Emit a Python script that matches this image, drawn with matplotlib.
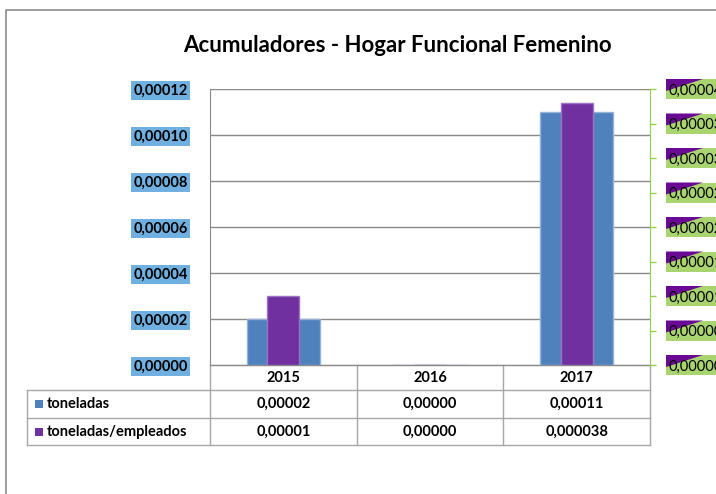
import matplotlib.pyplot as plt
from matplotlib.patches import Rectangle, Polygon
import numpy as np

plt.rcParams['font.family'] = ['Lato', 'DejaVu Sans']

# data
years = ['2015', '2016', '2017']
toneladas = [0.00002, 0.0, 0.00011]
toneladas_empleados = [0.00001, 0.0, 0.000038]
series_names = ['toneladas', 'toneladas/empleados']
left_ticks = [0.0, 0.00002, 0.00004, 0.00006, 0.00008, 0.00010, 0.00012]
right_ticks = [0.0, 0.000005, 0.00001, 0.000015, 0.00002, 0.000025, 0.00003, 0.000035, 0.00004]

BLUE = '#4f81bd'
PURPLE = '#7030a0'
GRID = '#898989'
W, H = 716, 494


def fmt(v, decimals=5):
    s = f"{v:.{decimals}f}".replace('.', ',')
    return s


def fmt_table(v):
    s = f"{v:.6f}".rstrip('0')
    if len(s.split('.')[1]) < 5:
        s = f"{v:.5f}"
    return s.replace('.', ',')


fig = plt.figure(figsize=(W / 100, H / 100), dpi=100)

# overlay in pixel coordinates (y down), behind the chart
bg = fig.add_axes([0, 0, 1, 1], zorder=-1)
bg.set_xlim(0, W)
bg.set_ylim(H, 0)
bg.axis('off')

left, right, top, bottom = 210, 650, 89, 365
ax = fig.add_axes([left / W, 1 - bottom / H, (right - left) / W, (bottom - top) / H])
ax2 = ax.twinx()

x = np.arange(len(years))
ax.bar(x, toneladas, width=0.5, color=BLUE, edgecolor='#95b3d7', linewidth=1, zorder=3)
ax2.bar(x, toneladas_empleados, width=0.22, color=PURPLE, edgecolor='#9d73c4', linewidth=1, zorder=3)

ax.set_xlim(-0.5, len(years) - 0.5)
ax.set_ylim(left_ticks[0], left_ticks[-1])
ax2.set_ylim(right_ticks[0], right_ticks[-1])

ax.set_yticks(left_ticks)
ax.set_yticklabels([fmt(v) for v in left_ticks], fontsize=10.5, fontweight='bold')
for lbl in ax.get_yticklabels():
    lbl.set_bbox(dict(boxstyle='square,pad=0.15', fc='#6fb0e0', ec='none'))
ax.tick_params(axis='y', length=0, pad=16)
ax.set_xticks([])
ax.grid(axis='y', color=GRID, linewidth=1, zorder=0)

ax2.set_yticks(right_ticks)
ax2.set_yticklabels([fmt(v, 6) for v in right_ticks], fontsize=10.5)
ax2.tick_params(axis='y', length=4, width=1, color='#92d050', pad=9, direction='out')
ax2.set_xticks([])

for a in (ax, ax2):
    for side in ('top', 'bottom', 'left', 'right'):
        a.spines[side].set_visible(False)
ax.spines['left'].set_visible(True)
ax.spines['left'].set_color(GRID)
ax.spines['bottom'].set_visible(True)
ax.spines['bottom'].set_color(GRID)
ax2.spines['right'].set_visible(True)
ax2.spines['right'].set_color('#92d050')


def to_px(axis, xv, yv):
    dx, dy = axis.transData.transform((xv, yv))
    return dx, H - dy


# right label boxes with purple corner
for v in right_ticks:
    _, py = to_px(ax2, 0, v)
    bg.add_patch(Rectangle((666, py - 10), 60, 20, fc='#a9d46f', ec='none'))
    bg.add_patch(Polygon([(666, py - 10), (703, py - 10), (666, py + 2)], closed=True,
                         fc='#6a0a94', ec='none'))

# outer chart border
bg.plot([5.5, 5.5, W + 5], [H + 5, 10.5, 10.5], color='#8c8c8c', linewidth=1.2)

fig.text(397 / W, 1 - 45 / H, 'Acumuladores - Hogar Funcional Femenino',
         ha='center', va='center', fontsize=16, fontweight='bold')

# data table
line_kw = dict(color='#a6a6a6', linewidth=1)
row_top, row1, row2, row_bot = 365, 390, 418, 445
col_edges = [left] + [to_px(ax, i + 0.5, 0)[0] for i in range(len(years))]
bg.plot([left, right], [row_top, row_top], **line_kw)
for yy in (row1, row2, row_bot):
    bg.plot([27, right], [yy, yy], **line_kw)
for cx in col_edges:
    bg.plot([cx, cx], [row_top, row_bot], **line_kw)
bg.plot([27, 27], [row1, row_bot], **line_kw)

row_y = [(row_top + row1) / 2, (row1 + row2) / 2, (row2 + row_bot) / 2]
for i, yr in enumerate(years):
    cx = to_px(ax, i, 0)[0]
    bg.text(cx, row_y[0], yr, ha='center', va='center', fontsize=10.5, fontweight='bold')
    bg.text(cx, row_y[1], fmt_table(toneladas[i]), ha='center', va='center',
            fontsize=10.5, fontweight='bold')
    bg.text(cx, row_y[2], fmt_table(toneladas_empleados[i]), ha='center', va='center',
            fontsize=10.5, fontweight='bold')

for name, color, yy in zip(series_names, [BLUE, PURPLE], row_y[1:]):
    bg.add_patch(Rectangle((35, yy - 4), 8, 8, fc=color, ec='none'))
    bg.text(47, yy, name, ha='left', va='center', fontsize=10.5, fontweight='bold')

fig.savefig('out.png', dpi=100)
